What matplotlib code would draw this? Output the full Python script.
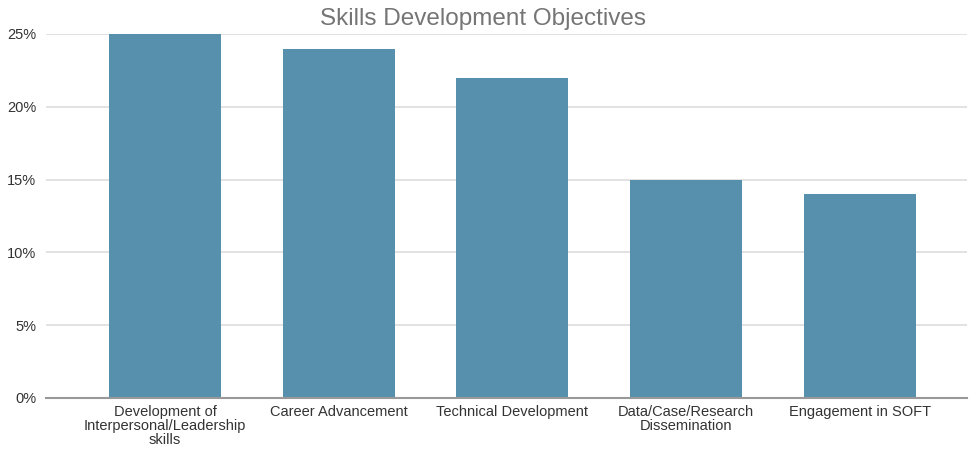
import matplotlib.pyplot as plt
from matplotlib.ticker import PercentFormatter

# data
categories = ["Development of\nInterpersonal/Leadership\nskills", "Career Advancement",
              "Technical Development", "Data/Case/Research\nDissemination", "Engagement in SOFT"]
values = [0.25, 0.24, 0.22, 0.15, 0.14]
yticks = [0, 0.05, 0.10, 0.15, 0.20, 0.25]

plt.rcParams['font.family'] = ['Liberation Sans', 'DejaVu Sans']

fig = plt.figure(figsize=(9.71, 4.49), dpi=100)
ax = fig.add_axes([0.0474, 0.1136, 0.948, 0.8107])

x = range(len(categories))
ax.bar(x, values, width=0.645, color="#5790ad", zorder=3)

ax.set_xlim(-0.685, 4.615)
ax.set_ylim(0, 0.25)
ax.set_yticks(yticks)
ax.yaxis.set_major_formatter(PercentFormatter(1.0, decimals=0))
ax.set_xticks(list(x))
ax.set_xticklabels(categories, fontsize=10.5, color="#333333", linespacing=1.02)

ax.grid(axis='y', color="#dddddd", linewidth=1.2, zorder=0)
for s in ["top", "right", "left"]:
    ax.spines[s].set_visible(False)
ax.spines["bottom"].set_color("#999999")
ax.spines["bottom"].set_linewidth(1.5)
ax.spines["bottom"].set_zorder(4)
ax.tick_params(axis='x', length=0, pad=5)
ax.tick_params(axis='y', length=0, pad=7, labelsize=10.5, labelcolor="#333333")

fig.text(0.497, 0.958, "Skills Development Objectives", ha="center", va="center",
         fontsize=17.5, color="#757575")

fig.savefig("out.png", dpi=100)
